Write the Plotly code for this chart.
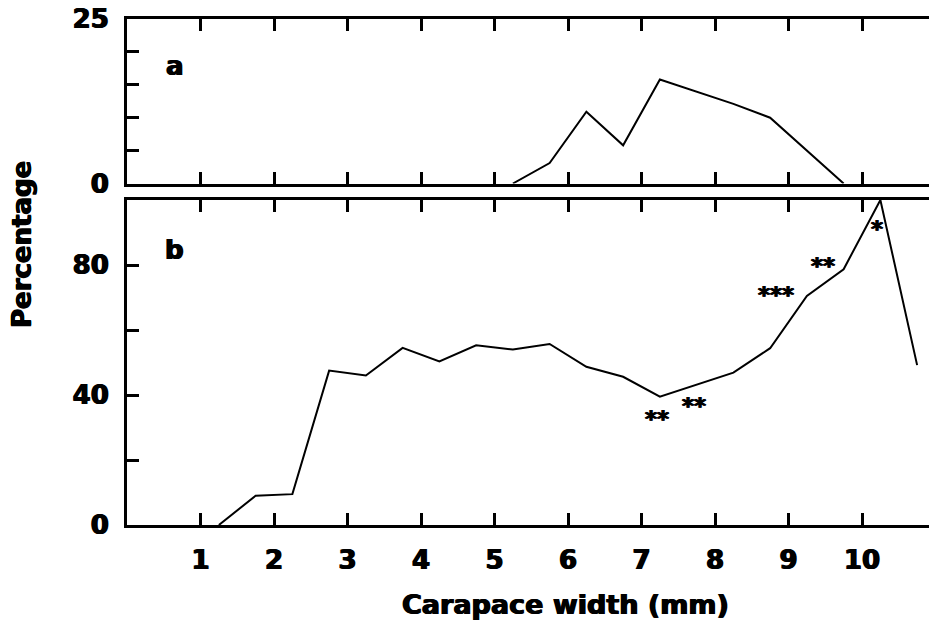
import plotly.graph_objects as go

# Carapace-width size classes (class midpoints, mm)
width_a = [5.25, 5.75, 6.25, 6.75, 7.25, 7.75, 8.25, 8.75, 9.25, 9.75]
pct_a = [0, 3.1, 10.9, 5.8, 15.8, 14.0, 12.1, 10.0, 5.0, 0]

width_b = [1.25, 1.75, 2.25, 2.75, 3.25, 3.75, 4.25, 4.75, 5.25, 5.75,
           6.25, 6.75, 7.25, 7.75, 8.25, 8.75, 9.25, 9.75, 10.25, 10.75]
pct_b = [0, 9.0, 9.5, 47.5, 46.0, 54.5, 50.3, 55.3, 54.0, 55.7,
         48.7, 45.6, 39.5, 43.1, 46.9, 54.4, 70.5, 78.7, 100.0, 49.2]

# Significance marks in panel b
sig_x = [7.21, 7.72, 8.83, 9.47, 10.2]
sig_y = [34.1, 38.2, 72.3, 81.3, 92.5]
sig_labels = ["**", "**", "***", "**", "*"]

x_ticks = [1, 2, 3, 4, 5, 6, 7, 8, 9, 10]
ya_ticks = [0, 5, 10, 15, 20, 25]
ya_text = ["0", "", "", "", "", "25"]
yb_ticks = [0, 20, 40, 60, 80, 100]
yb_text = ["0", "", "40", "", "80", ""]

W, H = 929, 621
X0 = 127.0          # left edge of the plotting area (px)
PX_PER_MM = 73.5
x_max = (W - X0) / PX_PER_MM

FONT = "DejaVu Sans"
HEAVY = "0.7px 0 0 black, -0.7px 0 0 black"   # thickens the bold strokes


def heavy_font(size):
    return dict(family=FONT, size=size, color="black", weight="bold", shadow=HEAVY)


fig = go.Figure()
fig.add_trace(go.Scatter(x=width_b, y=pct_b, mode="lines",
                         line=dict(color="black", width=2),
                         xaxis="x", yaxis="y", hoverinfo="skip"))
fig.add_trace(go.Scatter(x=width_a, y=pct_a, mode="lines",
                         line=dict(color="black", width=2),
                         xaxis="x2", yaxis="y2", hoverinfo="skip"))

axis_common = dict(showline=True, linewidth=3, linecolor="black",
                   ticks="inside", ticklen=12, tickwidth=3, tickcolor="black",
                   showgrid=False, zeroline=False, fixedrange=True,
                   automargin=False)
right_ticks = dict(side="right", ticks="inside", ticklen=7, tickwidth=3,
                   tickcolor="black", showline=False, showticklabels=False,
                   showgrid=False, zeroline=False, fixedrange=True,
                   automargin=False)

dom_a = [1 - 183.5 / H, 1 - 19 / H]
dom_b = [1 - 525 / H, 1 - 200 / H]

fig.update_layout(
    width=W, height=H,
    margin=dict(l=0, r=0, t=0, b=0, pad=0, autoexpand=False),
    paper_bgcolor="white", plot_bgcolor="white",
    showlegend=False,
    xaxis=dict(domain=[X0 / W, 1], range=[0, x_max], anchor="y",
               mirror="ticks", tickvals=x_ticks, tickfont=heavy_font(26),
               ticklabelstandoff=10, **axis_common),
    xaxis2=dict(domain=[X0 / W, 1], range=[0, x_max], anchor="y2",
                mirror="ticks", tickvals=x_ticks, showticklabels=False,
                **axis_common),
    yaxis=dict(domain=dom_b, range=[0, 100], anchor="x",
               tickvals=yb_ticks, ticktext=yb_text, tickfont=heavy_font(26),
               ticklabelstandoff=10, **axis_common),
    yaxis2=dict(domain=dom_a, range=[0, 25], anchor="x2",
                tickvals=ya_ticks, ticktext=ya_text, tickfont=heavy_font(26),
                ticklabelstandoff=10, **axis_common),
    # tick marks along the right-hand edge
    yaxis3=dict(overlaying="y", anchor="x", range=[0, 100],
                tickvals=[20, 40, 60, 80], **right_ticks),
    yaxis4=dict(overlaying="y2", anchor="x2", range=[0, 25],
                tickvals=[5, 10, 15, 20], **right_ticks),
)

# panel letters
fig.add_annotation(x=0.65, y=17.9, xref="x2", yref="y2", text="a",
                   showarrow=False, font=heavy_font(26))
fig.add_annotation(x=0.65, y=84.5, xref="x", yref="y", text="b",
                   showarrow=False, font=heavy_font(26))

# significance asterisks
for sx, sy, st in zip(sig_x, sig_y, sig_labels):
    fig.add_annotation(x=sx, y=sy, xref="x", yref="y", text=st, showarrow=False,
                       yshift=-5, font=heavy_font(23))

# axis titles
fig.add_annotation(x=22 / W, y=1 - 245 / H, xref="paper", yref="paper",
                   text="Percentage", textangle=-90, showarrow=False,
                   xanchor="center", yanchor="middle", font=heavy_font(26))
fig.add_annotation(x=565 / W, y=0, xref="paper", yref="paper",
                   text="Carapace width (mm)", showarrow=False,
                   xanchor="center", yanchor="bottom", borderpad=0,
                   font=heavy_font(27))

fig.write_html("out.html")
